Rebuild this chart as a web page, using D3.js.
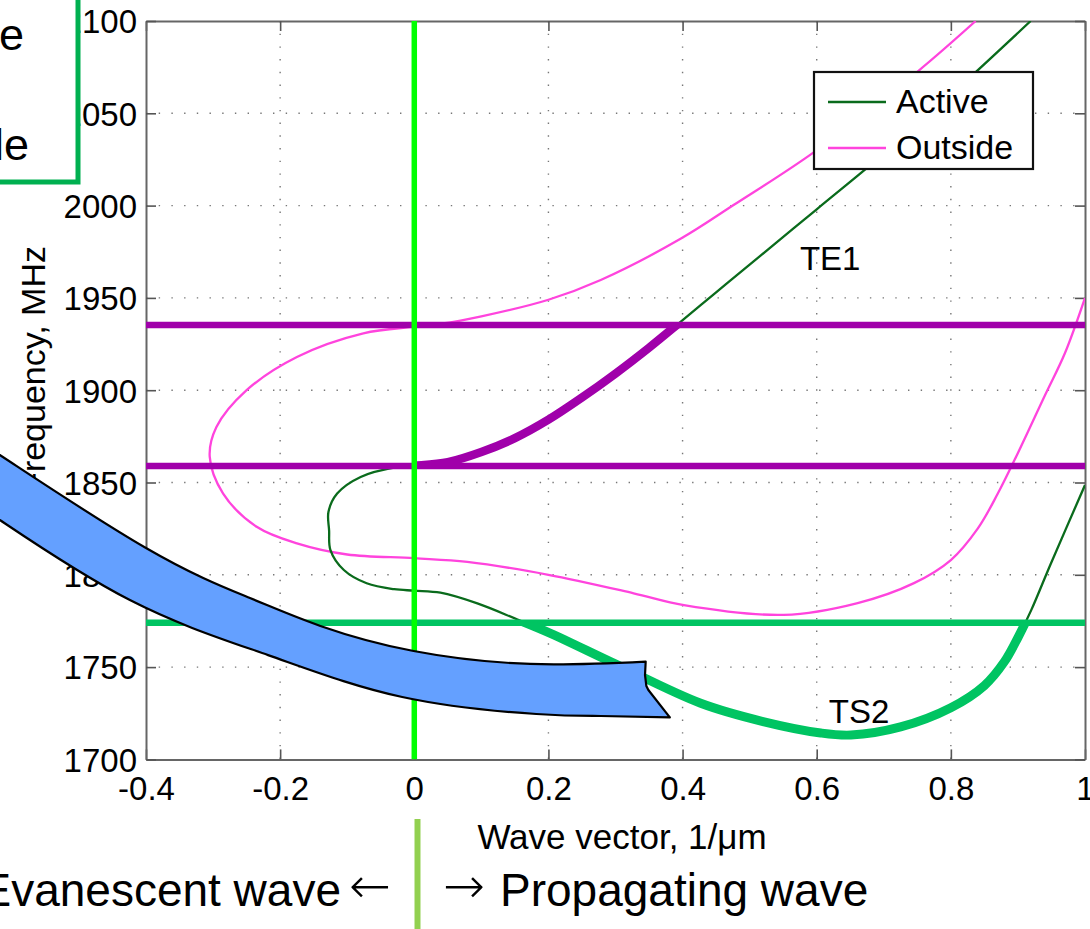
<!DOCTYPE html>
<html><head><meta charset="utf-8">
<script src="https://cdn.jsdelivr.net/npm/d3@7"></script>
<style>
body{margin:0;background:#fff}
svg{display:block}
text{font-family:"Liberation Sans",Arial,Helvetica,sans-serif;fill:#000}
</style>
</head><body>
<svg id="c" width="1090" height="929"></svg>
<script>
// ---------- data ----------
const xTicks = [-0.4, -0.2, 0, 0.2, 0.4, 0.6, 0.8, 1];
const xTickLabels = ["-0.4", "-0.2", "0", "0.2", "0.4", "0.6", "0.8", "1"];
const yTicks = [1700, 1750, 1800, 1850, 1900, 1950, 2000, 2050, 2100];
const yTickLabels = ["1700", "1750", "1800", "1850", "1900", "1950", "2000", "2050", "2100"];

// Active layer dispersion (k in 1/um, f in MHz), one continuous branch
const activeK = [0.919, 0.8, 0.7, 0.6, 0.5, 0.45, 0.397, 0.35, 0.3, 0.25, 0.2, 0.15, 0.1, 0.05, 0, -0.026, -0.08, -0.115, -0.128, -0.127, -0.125, -0.105, -0.071, -0.03, 0, 0.039, 0.094, 0.153, 0.203, 0.298, 0.427, 0.52, 0.606, 0.651, 0.725, 0.8, 0.85, 0.88, 0.9, 0.92, 0.949, 1.0];
const activeF = [2100, 2060, 2028, 1998, 1968, 1953, 1937, 1923, 1909, 1896, 1884, 1874, 1866.5, 1861, 1859, 1858.3, 1853, 1844, 1834, 1824, 1813.4, 1802.6, 1795.4, 1792.2, 1791.4, 1790.3, 1784.5, 1775.9, 1768.3, 1752, 1730.4, 1720.5, 1714.3, 1713.2, 1717.6, 1728, 1740, 1753, 1766, 1781, 1806, 1848.6];

// Outside dispersion
const outsideK = [0.837, 0.75, 0.596, 0.476, 0.397, 0.278, 0.2, 0.1, 0.04, 0, -0.076, -0.175, -0.25, -0.295, -0.305, -0.285, -0.235, -0.175, -0.1, 0, 0.079, 0.2, 0.327, 0.402, 0.551, 0.661, 0.745, 0.8, 0.84, 0.87, 0.9, 0.94, 0.97, 1.0];
const outsideF = [2100, 2072.5, 2029, 2000.3, 1982, 1959.7, 1949, 1940, 1936, 1934.4, 1930.8, 1918, 1900, 1880, 1864, 1844, 1826, 1817, 1811, 1809, 1807, 1800, 1790, 1783.6, 1778.3, 1784.7, 1795.5, 1808, 1825, 1844, 1866, 1897, 1920, 1950];

// marker levels
const purpleLevels = [1935.3, 1859];
const greenLevels = [1774];
const zeroK = [0];
// highlighted windows of the active curve: TE1 between the two purple levels (k >= 0), TS2 below the green level
const te1Window = {k0: 0, k1: 0.7, f0: 1858, f1: 1936.5};
const ts2Window = {k0: -0.4, k1: 1, f0: 1700, f1: 1774};

const labelTexts = [{t: "TE1", k: 0.575, f: 1965}, {t: "TS2", k: 0.618, f: 1719.5}];
const legendItems = [{name: "Active", color: "#0a6b1c"}, {name: "Outside", color: "#ff44dd"}];

// curved annotation arrow outline (data coordinates)
const arrowTopK = [-0.679, -0.618, -0.4, -0.245, -0.140, -0.001, 0.173, 0.345];
const arrowTopF = [1878.4, 1864.9, 1814.5, 1787.4, 1772.3, 1758.7, 1751.7, 1753.0];
const arrowHeadK = [0.344, 0.346, 0.349, 0.381];
const arrowHeadF = [1745.7, 1739.8, 1737.6, 1722.8];
const arrowBotK = [0.381, 0.278, 0.182, -0.018, -0.218, -0.424, -0.618, -0.678];
const arrowBotF = [1722.8, 1723.5, 1724.6, 1733.8, 1756.5, 1786.3, 1829.7, 1843.8];

// ---------- layout ----------
const svg = d3.select("#c");
const L = 146, R = 1085, T = 21, B = 759.4;
const x = d3.scaleLinear().domain([-0.4, 1]).range([L, R]);
const y = d3.scaleLinear().domain([1700, 2100]).range([B, T]);

const defs = svg.append("defs");
defs.append("clipPath").attr("id", "pc")
  .append("rect").attr("x", L).attr("y", T).attr("width", R - L).attr("height", B - T);
function winClip(id, w) {
  defs.append("clipPath").attr("id", id).append("rect")
    .attr("x", x(w.k0)).attr("y", y(w.f1)).attr("width", x(w.k1) - x(w.k0)).attr("height", y(w.f0) - y(w.f1));
}
winClip("te1c", te1Window);
winClip("ts2c", ts2Window);

// grid
const grid = svg.append("g").attr("stroke", "#777").attr("stroke-width", 1.4).attr("stroke-dasharray", "1.4,11.3");
grid.selectAll(".gx").data(xTicks.slice(1, -1)).join("line")
  .attr("x1", d => x(d)).attr("x2", d => x(d)).attr("y1", T).attr("y2", B);
grid.selectAll(".gy").data(yTicks.slice(1, -1)).join("line")
  .attr("y1", d => y(d)).attr("y2", d => y(d)).attr("x1", L).attr("x2", R);

// axes (ticks inward, box)
const fontTick = 33;
const axB = svg.append("g").attr("transform", `translate(0,${B})`)
  .call(d3.axisBottom(x).tickValues(xTicks).tickFormat((d, i) => xTickLabels[i]).tickSizeInner(-10).tickSizeOuter(0).tickPadding(17));
const axT = svg.append("g").attr("transform", `translate(0,${T})`)
  .call(d3.axisTop(x).tickValues(xTicks).tickFormat("").tickSizeInner(-10).tickSizeOuter(0));
const axL = svg.append("g").attr("transform", `translate(${L},0)`)
  .call(d3.axisLeft(y).tickValues(yTicks).tickFormat((d, i) => yTickLabels[i]).tickSizeInner(-10).tickSizeOuter(0).tickPadding(9));
const axR = svg.append("g").attr("transform", `translate(${R},0)`)
  .call(d3.axisRight(y).tickValues(yTicks).tickFormat("").tickSizeInner(-10).tickSizeOuter(0));
[axB, axT, axL, axR].forEach(a => {
  a.select(".domain").attr("stroke", "#666").attr("stroke-width", 2);
  a.selectAll(".tick line").attr("stroke", "#555").attr("stroke-width", 1.6);
  a.selectAll("text").attr("font-size", fontTick).attr("fill", "#000")
    .style("font-family", '"Liberation Sans",Arial,sans-serif');
});
axL.selectAll("text").attr("dy", "0.36em");

const plot = svg.append("g").attr("clip-path", "url(#pc)");
const line = d3.line().x(d => x(d[0])).y(d => y(d[1])).curve(d3.curveCatmullRom.alpha(0.5));
const activePts = activeK.map((k, i) => [k, activeF[i]]);
const outsidePts = outsideK.map((k, i) => [k, outsideF[i]]);

// thin curves
plot.append("path").attr("d", line(outsidePts)).attr("fill", "none").attr("stroke", "#ff44dd").attr("stroke-width", 2.3);
plot.append("path").attr("d", line(activePts)).attr("fill", "none").attr("stroke", "#0a6b1c").attr("stroke-width", 2.3);

// horizontal markers
plot.selectAll(".hp").data(purpleLevels).join("line")
  .attr("x1", L).attr("x2", R).attr("y1", d => y(d)).attr("y2", d => y(d))
  .attr("stroke", "#a000aa").attr("stroke-width", 6.5);
plot.selectAll(".hg").data(greenLevels).join("line")
  .attr("x1", L).attr("x2", R).attr("y1", d => y(d)).attr("y2", d => y(d))
  .attr("stroke", "#00c462").attr("stroke-width", 6.5);

// highlighted mode sections
plot.append("g").attr("clip-path", "url(#te1c)").append("path").attr("d", line(activePts))
  .attr("fill", "none").attr("stroke", "#a000aa").attr("stroke-width", 8.5);
plot.append("g").attr("clip-path", "url(#ts2c)").append("path").attr("d", line(activePts))
  .attr("fill", "none").attr("stroke", "#00c462").attr("stroke-width", 9);

// vertical k = 0 line
plot.selectAll(".vz").data(zeroK).join("line")
  .attr("x1", d => x(d)).attr("x2", d => x(d)).attr("y1", T).attr("y2", B)
  .attr("stroke", "#00ff00").attr("stroke-width", 5.5);

// curve labels
svg.selectAll(".cl").data(labelTexts).join("text")
  .attr("x", d => x(d.k)).attr("y", d => y(d.f)).attr("font-size", 33).text(d => d.t);

// legend
const lg = svg.append("g").attr("transform", "translate(814,72)");
lg.append("rect").attr("width", 219).attr("height", 97).attr("fill", "#fff").attr("stroke", "#111").attr("stroke-width", 2.2);
legendItems.forEach((it, i) => {
  const yy = 30 + i * 46;
  lg.append("line").attr("x1", 14).attr("x2", 72).attr("y1", yy).attr("y2", yy).attr("stroke", it.color).attr("stroke-width", 2.5);
  lg.append("text").attr("x", 82).attr("y", yy + 11).attr("font-size", 34).text(it.name);
});

// axis titles
svg.append("text").attr("x", 622).attr("y", 849).attr("text-anchor", "middle").attr("font-size", 35).text("Wave vector, 1/\u03bcm");
svg.append("text").attr("transform", "translate(45,246) rotate(-90)").attr("text-anchor", "end").attr("font-size", 34).text("Frequency, MHz");

// bottom annotation
svg.append("line").attr("x1", 417.5).attr("x2", 417.5).attr("y1", 819).attr("y2", 929).attr("stroke", "#92d050").attr("stroke-width", 6);
svg.append("text").attr("x", 341).attr("y", 906).attr("text-anchor", "end").attr("font-size", 46).text("Evanescent wave");
svg.append("text").attr("x", 349).attr("y", 903).attr("font-size", 50).style("font-family", '"DejaVu Sans",sans-serif').style("font-weight", 200).text("\u2190");
svg.append("text").attr("x", 443).attr("y", 903).attr("font-size", 50).style("font-family", '"DejaVu Sans",sans-serif').style("font-weight", 200).text("\u2192");
svg.append("text").attr("x", 500).attr("y", 906).attr("font-size", 46).text("Propagating wave");

// top-left callout box (partly outside the picture)
svg.append("rect").attr("x", -20).attr("y", -20).attr("width", 98).attr("height", 202)
  .attr("fill", "#fff").attr("stroke", "#00b050").attr("stroke-width", 5);
svg.append("text").attr("x", 24).attr("y", 50).attr("text-anchor", "end").attr("font-size", 45).text("e");
svg.append("text").attr("x", 29).attr("y", 160).attr("text-anchor", "end").attr("font-size", 45).text("le");

// curved arrow
const aLine = d3.line().x(d => x(d[0])).y(d => y(d[1])).curve(d3.curveNatural);
const topPts = arrowTopK.map((k, i) => [k, arrowTopF[i]]);
const headPts = arrowHeadK.map((k, i) => [k, arrowHeadF[i]]);
const botPts = arrowBotK.map((k, i) => [k, arrowBotF[i]]);
const dArrow = aLine(topPts) + headPts.map(p => `L${x(p[0])},${y(p[1])}`).join("") + aLine(botPts).replace(/^M/, "L") + "Z";
svg.append("path").attr("d", dArrow).attr("fill", "#64a0ff").attr("stroke", "#000").attr("stroke-width", 2.2).attr("stroke-linejoin", "round");
</script>
</body></html>
